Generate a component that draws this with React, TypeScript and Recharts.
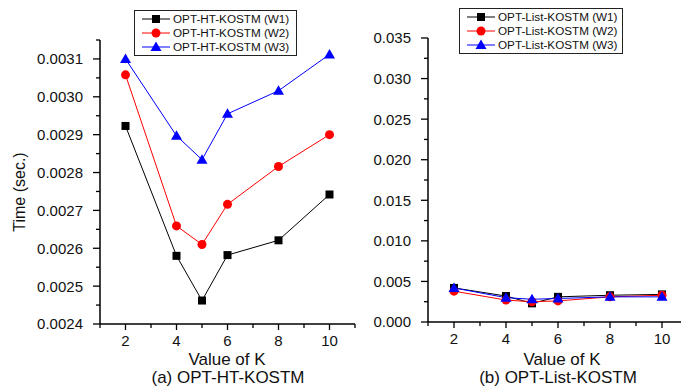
import { LineChart, Line, XAxis, YAxis, Legend } from 'recharts'

const kValues = [2, 4, 5, 6, 8, 10]

const htW1 = [0.002923, 0.00258, 0.002462, 0.002582, 0.002621, 0.002742]
const htW2 = [0.003058, 0.002659, 0.00261, 0.002716, 0.002816, 0.0029]
const htW3 = [0.0031, 0.002897, 0.002834, 0.002955, 0.003016, 0.003112]

const listW1 = [0.0042, 0.0032, 0.0023, 0.0031, 0.0033, 0.0034]
const listW2 = [0.0038, 0.0027, 0.0025, 0.0026, 0.0031, 0.0033]
const listW3 = [0.0042, 0.003, 0.0028, 0.0029, 0.0031, 0.0031]

const kTicks = [1, 2, 3, 4, 5, 6, 7, 8, 9, 10, 11]
const kMajor = [2, 4, 6, 8, 10]

const htMajor = [0.0024, 0.0025, 0.0026, 0.0027, 0.0028, 0.0029, 0.003, 0.0031]
const htTicks = [...htMajor, ...htMajor.map((v) => v + 0.00005)]

const listMajor = [0, 0.005, 0.01, 0.015, 0.02, 0.025, 0.03, 0.035]
const listTicks = [...listMajor, ...listMajor.slice(0, -1).map((v) => v + 0.0025)]

const htNames = ['OPT-HT-KOSTM (W1)', 'OPT-HT-KOSTM (W2)', 'OPT-HT-KOSTM (W3)']
const listNames = ['OPT-List-KOSTM (W1)', 'OPT-List-KOSTM (W2)', 'OPT-List-KOSTM (W3)']

const colors = ['#000000', '#ff0000', '#0000ff']
const shapes = ['square', 'circle', 'triangle']

const FONT = '"Liberation Sans", Arial, sans-serif'

const htData = kValues.map((k, i) => ({ k, w1: htW1[i], w2: htW2[i], w3: htW3[i] }))
const listData = kValues.map((k, i) => ({ k, w1: listW1[i], w2: listW2[i], w3: listW3[i] }))

function Marker({ shape, color, cx, cy }: { shape: string; color: string; cx: number; cy: number }) {
  if (shape === 'square') return <rect x={cx - 4} y={cy - 4} width={8} height={8} fill={color} />
  if (shape === 'circle') return <circle cx={cx} cy={cy} r={4.5} fill={color} />
  return <polygon points={`${cx},${cy - 5.5} ${cx + 5.5},${cy + 4} ${cx - 5.5},${cy + 4}`} fill={color} />
}

const isIn = (list: number[], v: number) => list.some((m) => Math.abs(m - v) < 1e-9)

function YTick(props: any) {
  const { x, y, payload, majors, digits } = props
  const major = isIn(majors, payload.value)
  return (
    <g>
      <line x1={x - (major ? 7 : 4)} x2={x} y1={y} y2={y} stroke="#000" strokeWidth={1.3} />
      {major && (
        <text x={x - 17} y={y} dy="0.36em" textAnchor="end" fontSize={15} fontFamily={FONT} fill="#111">
          {payload.value.toFixed(digits)}
        </text>
      )}
    </g>
  )
}

function XTick(props: any) {
  const { x, y, payload } = props
  const major = isIn(kMajor, payload.value)
  return (
    <g>
      <line x1={x} x2={x} y1={y} y2={y + (major ? 6 : 4)} stroke="#000" strokeWidth={1.3} />
      {major && (
        <text x={x} y={y + 17} dy="0.36em" textAnchor="middle" fontSize={15} fontFamily={FONT} fill="#111">
          {payload.value}
        </text>
      )}
    </g>
  )
}

function LegendBox({ names, width }: { names: string[]; width: number }) {
  return (
    <div style={{ width, boxSizing: 'border-box', border: '1px solid #222', padding: '1px 0 1px 7px', background: '#fff', fontFamily: FONT, fontSize: 11.7, lineHeight: '14px', color: '#111' }}>
      {names.map((n, i) => (
        <div key={n} style={{ display: 'flex', alignItems: 'center', whiteSpace: 'nowrap' }}>
          <svg width={28} height={14} style={{ marginRight: 3 }}>
            <line x1={0} x2={28} y1={7} y2={7} stroke={colors[i]} strokeWidth={1} />
            <Marker shape={shapes[i]} color={colors[i]} cx={14} cy={7} />
          </svg>
          {n}
        </div>
      ))}
    </div>
  )
}

function Panel({ data, names, yDomain, yTicks, yMajors, digits, width, plotWidth, yWidth, top, xHeight, legendPos, legendWidth }: any) {
  return (
    <LineChart width={width} height={389} data={data} margin={{ top, right: width - yWidth - plotWidth, bottom: 0, left: 0 }}>
      <XAxis
        dataKey="k"
        type="number"
        domain={[1, 11]}
        ticks={kTicks}
        interval={0}
        tickSize={0}
        tickMargin={0}
        tickLine={false}
        height={xHeight}
        axisLine={{ stroke: '#000', strokeWidth: 1.5 }}
        tick={(p: any) => <XTick {...p} />}
      />
      <YAxis
        type="number"
        domain={yDomain}
        ticks={yTicks}
        interval={0}
        tickSize={0}
        tickMargin={0}
        tickLine={false}
        width={yWidth}
        allowDataOverflow
        axisLine={{ stroke: '#000', strokeWidth: 1.5 }}
        tick={(p: any) => <YTick {...p} majors={yMajors} digits={digits} />}
      />
      <Legend
        layout="vertical"
        align="center"
        verticalAlign="middle"
        wrapperStyle={{ left: legendPos[0], top: legendPos[1], width: 'auto' }}
        content={() => <LegendBox names={names} width={legendWidth} />}
      />
      {['w1', 'w2', 'w3'].map((key, i) => (
        <Line
          key={key}
          dataKey={key}
          stroke={colors[i]}
          strokeWidth={1}
          isAnimationActive={false}
          dot={(d: any) => <Marker key={d.index} shape={shapes[i]} color={colors[i]} cx={d.cx} cy={d.cy} />}
          activeDot={false}
        />
      ))}
    </LineChart>
  )
}

const textStyle = { position: 'absolute' as const, fontFamily: FONT, color: '#111', whiteSpace: 'nowrap' as const, transform: 'translateX(-50%)', fontSize: 17, lineHeight: '17px' }

export default function App() {
  return (
    <div style={{ position: 'absolute', left: 0, top: 0, width: 681, height: 389, overflow: 'hidden', background: '#fff' }}>
      <div style={{ position: 'absolute', left: 0, top: 0 }}>
        <Panel data={htData} names={htNames} yDomain={[0.0024, 0.00315]} yTicks={htTicks} yMajors={htMajor} digits={4}
          width={370} plotWidth={255} yWidth={100} top={40} xHeight={65} legendPos={[134, 10]} legendWidth={163} />
      </div>
      <div style={{ position: 'absolute', left: 340, top: 0 }}>
        <Panel data={listData} names={listNames} yDomain={[0, 0.035]} yTicks={listTicks} yMajors={listMajor} digits={3}
          width={360} plotWidth={260} yWidth={88} top={38} xHeight={67} legendPos={[119, 8]} legendWidth={164} />
      </div>
      <div style={{ position: 'absolute', left: 20, top: 192, fontFamily: FONT, fontSize: 16, color: '#111', whiteSpace: 'nowrap', transform: 'translate(-50%, -50%) rotate(-90deg)' }}>
        Time (sec.)
      </div>
      <div style={{ ...textStyle, left: 227, top: 351 }}>Value of K</div>
      <div style={{ ...textStyle, left: 228, top: 369 }}>(a) OPT-HT-KOSTM</div>
      <div style={{ ...textStyle, left: 562, top: 351 }}>Value of K</div>
      <div style={{ ...textStyle, left: 558, top: 369 }}>(b) OPT-List-KOSTM</div>
    </div>
  )
}
